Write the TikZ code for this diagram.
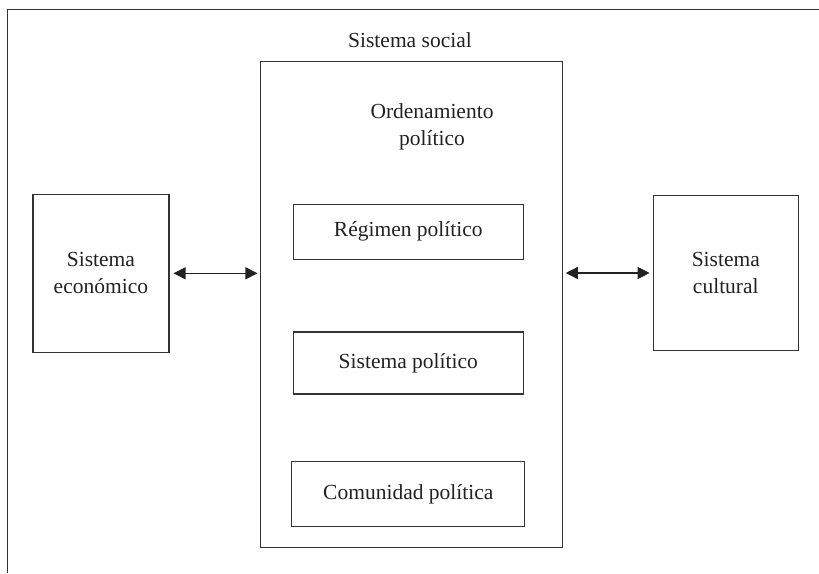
\documentclass[tikz,border=0pt]{standalone}
\usepackage{fontspec}
\setmainfont{Liberation Serif}
\usetikzlibrary{arrows.meta}
\definecolor{ink}{HTML}{222222}
\definecolor{rule}{HTML}{333333}
\begin{document}
\begin{tikzpicture}[x=1pt,y=-1pt,
  every node/.style={text=ink,font=\fontsize{21.5}{27}\selectfont,align=center},
  box/.style={draw=rule,line width=1.3pt,inner sep=0pt,rectangle},
  link/.style={draw=ink,line width=1.2pt,{Triangle[length=12pt,width=12pt]}-{Triangle[length=12pt,width=12pt]}}]
  \useasboundingbox (0,0) rectangle (819,573);
  % outer frame (top and left edges)
  \draw[rule,line width=1.3pt] (7.5,573) -- (7.5,9.5) -- (819,9.5);
  % title of the whole system
  \node (title) at (410,40) {Sistema social};
  % central block and its parts
  \node[box,minimum width=302pt,minimum height=486pt] (central) at (411.6,304.7) {};
  \node (orden) at (432,127) {Ordenamiento\\político};
  \node[box,minimum width=230pt,minimum height=55pt] (regimen) at (408.3,231.7) {Régimen político};
  \node[box,minimum width=230pt,minimum height=62pt] (sispol) at (408.3,362.9) {Sistema político};
  \node[box,minimum width=233pt,minimum height=65pt] (comunidad) at (408.3,494.3) {Comunidad política};
  % neighbouring systems
  \node[box,minimum width=136pt,minimum height=158pt] (econ) at (100.9,273.3) {Sistema\\económico};
  \node[box,minimum width=145pt,minimum height=155pt] (cult) at (725.8,273) {Sistema\\cultural};
  % exchanges with the central block
  \draw[link,shorten <=4pt,shorten >=2.5pt] (econ.east) -- (econ.east -| central.west);
  \draw[link,shorten <=2.5pt,shorten >=3pt] (central.east |- cult.west) -- (cult.west);
\end{tikzpicture}
\end{document}
